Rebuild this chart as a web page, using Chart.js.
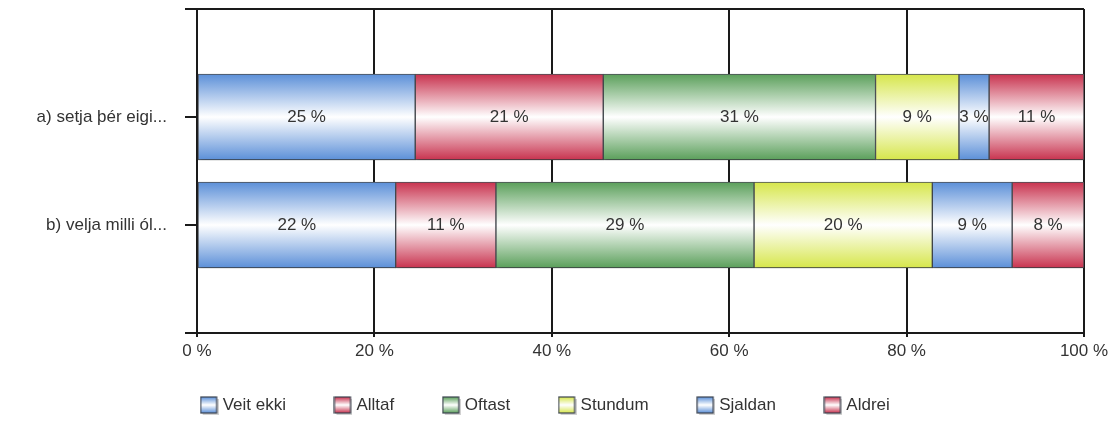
<html>
  <head>
    <script src="https://cdn.jsdelivr.net/npm/chart.js@4.4.1/dist/chart.umd.min.js"></script>
    <style>
      body { margin: 0; background: #fff; }
      #wrap { width: 1119px; height: 424px; }
    </style>
    <script>
      // data
      var categories = ['a) setja þér eigi...', 'b) velja milli ól...']
      var seriesNames = ['Veit ekki', 'Alltaf', 'Oftast', 'Stundum', 'Sjaldan', 'Aldrei']
      var veitEkki = [24.6, 22.4]
      var alltaf = [21.2, 11.3]
      var oftast = [30.7, 29.1]
      var stundum = [9.4, 20.1]
      var sjaldan = [3.4, 9.0]
      var aldrei = [10.7, 8.1]
      var xTicks = [0, 20, 40, 60, 80, 100]

      // dark edge colour of each series gradient
      var edgeColors = ['#5b8fd8', '#c8324e', '#5a9f5a', '#d6e64a', '#5b8fd8', '#c8324e']
      var BAR_H = 86
      var FONT = '"Liberation Sans", Arial, sans-serif'
      var LEGEND_PAD = 52

      function barGradient(ctx, y0, y1, col) {
        var g = ctx.createLinearGradient(0, y0, 0, y1)
        g.addColorStop(0, col)
        g.addColorStop(0.5, '#ffffff')
        g.addColorStop(1, col)
        return g
      }

      function legendIcon(col) {
        var c = document.createElement('canvas')
        c.width = 19
        c.height = 19
        var x = c.getContext('2d')
        x.fillStyle = 'rgba(0,0,0,0.18)'
        x.fillRect(3, 3, 16, 16)
        x.fillStyle = barGradient(x, 1, 17, col)
        x.fillRect(1, 1, 16, 16)
        x.strokeStyle = '#3c4450'
        x.lineWidth = 1.2
        x.strokeRect(1, 1, 16, 16)
        return c
      }

      var shadowPlugin = {
        id: 'barShadow',
        // x axis is squeezed so the legend sits low; let its labels draw past that box
        afterLayout: function (chart) {
          chart.scales.x.bottom = chart.scales.x.top + 30
        },
        beforeDatasetsDraw: function (chart) {
          var ctx = chart.ctx
          ctx.save()
          ctx.shadowColor = 'rgba(0,0,0,0.28)'
          ctx.shadowBlur = 3
          ctx.shadowOffsetY = 3
          ctx.shadowOffsetX = 1
        },
        afterDatasetsDraw: function (chart) {
          chart.ctx.restore()
        }
      }

      var labelPlugin = {
        id: 'valueLabels',
        afterDatasetsDraw: function (chart) {
          var ctx = chart.ctx
          ctx.save()
          ctx.shadowColor = 'transparent'
          ctx.font = '17px ' + FONT
          ctx.fillStyle = '#333333'
          ctx.textAlign = 'center'
          ctx.textBaseline = 'middle'
          chart.data.datasets.forEach(function (ds, i) {
            chart.getDatasetMeta(i).data.forEach(function (el, j) {
              var v = ds.data[j]
              if (v == null) return
              ctx.fillText(Math.round(v) + ' %', (el.x + el.base) / 2, el.y)
            })
          })
          ctx.restore()
        }
      }

      function init() {
        var series = [veitEkki, alltaf, oftast, stundum, sjaldan, aldrei]
        // empty slots at both ends put the two bars at 1/3 and 2/3 of the height
        var labels = [''].concat(categories, [''])
        var datasets = series.map(function (vals, i) {
          return {
            label: seriesNames[i],
            data: [null].concat(vals, [null]),
            backgroundColor: function (c) {
              var chart = c.chart
              if (!chart.chartArea) return edgeColors[i]
              var y = chart.scales.y.getPixelForValue(c.dataIndex)
              return barGradient(chart.ctx, y - BAR_H / 2, y + BAR_H / 2, edgeColors[i])
            },
            borderColor: '#4a4f55',
            borderWidth: 1,
            borderSkipped: false,
            barThickness: BAR_H,
            pointStyle: legendIcon(edgeColors[i])
          }
        })

        new Chart(document.getElementById('chart'), {
          type: 'bar',
          data: { labels: labels, datasets: datasets },
          plugins: [shadowPlugin, labelPlugin],
          options: {
            indexAxis: 'y',
            animation: false,
            responsive: false,
            layout: { padding: { left: 10, right: 35, top: 9, bottom: 0 } },
            scales: {
              x: {
                stacked: true,
                min: 0,
                max: 100,
                afterBuildTicks: function (axis) {
                  axis.ticks = xTicks.map(function (v) { return { value: v } })
                },
                afterFit: function (axis) { axis.height = 424 - 17 - LEGEND_PAD - 10 - 333 },
                grid: { color: '#1a1a1a', lineWidth: 2, tickLength: 4 },
                border: { color: '#1a1a1a', width: 2 },
                ticks: {
                  color: '#333',
                  padding: 4,
                  maxRotation: 0,
                  font: { size: 17, family: FONT },
                  callback: function (v) { return v + ' %' }
                }
              },
              y: {
                stacked: true,
                offset: false,
                afterFit: function (axis) {
                  axis.width = 187
                  axis.paddingTop = 0
                  axis.paddingBottom = 0
                },
                grid: {
                  offset: false,
                  color: function (c) {
                    return c.index === 0 ? '#1a1a1a' : 'transparent'
                  },
                  tickColor: '#1a1a1a',
                  lineWidth: 2,
                  tickLength: 12
                },
                border: { color: '#1a1a1a', width: 2 },
                ticks: {
                  color: '#333',
                  padding: 18,
                  font: { size: 17, family: FONT }
                }
              }
            },
            plugins: {
              legend: {
                position: 'bottom',
                labels: {
                  usePointStyle: true,
                  boxWidth: 10,
                  boxHeight: 17,
                  padding: LEGEND_PAD,
                  color: '#333',
                  font: { size: 17, family: FONT }
                }
              },
              tooltip: { enabled: false }
            }
          }
        })
      }
    </script>
  </head>
  <body onload="init()">
    <div id="wrap">
      <canvas id="chart" width="1119" height="424"></canvas>
    </div>
  </body>
</html>
